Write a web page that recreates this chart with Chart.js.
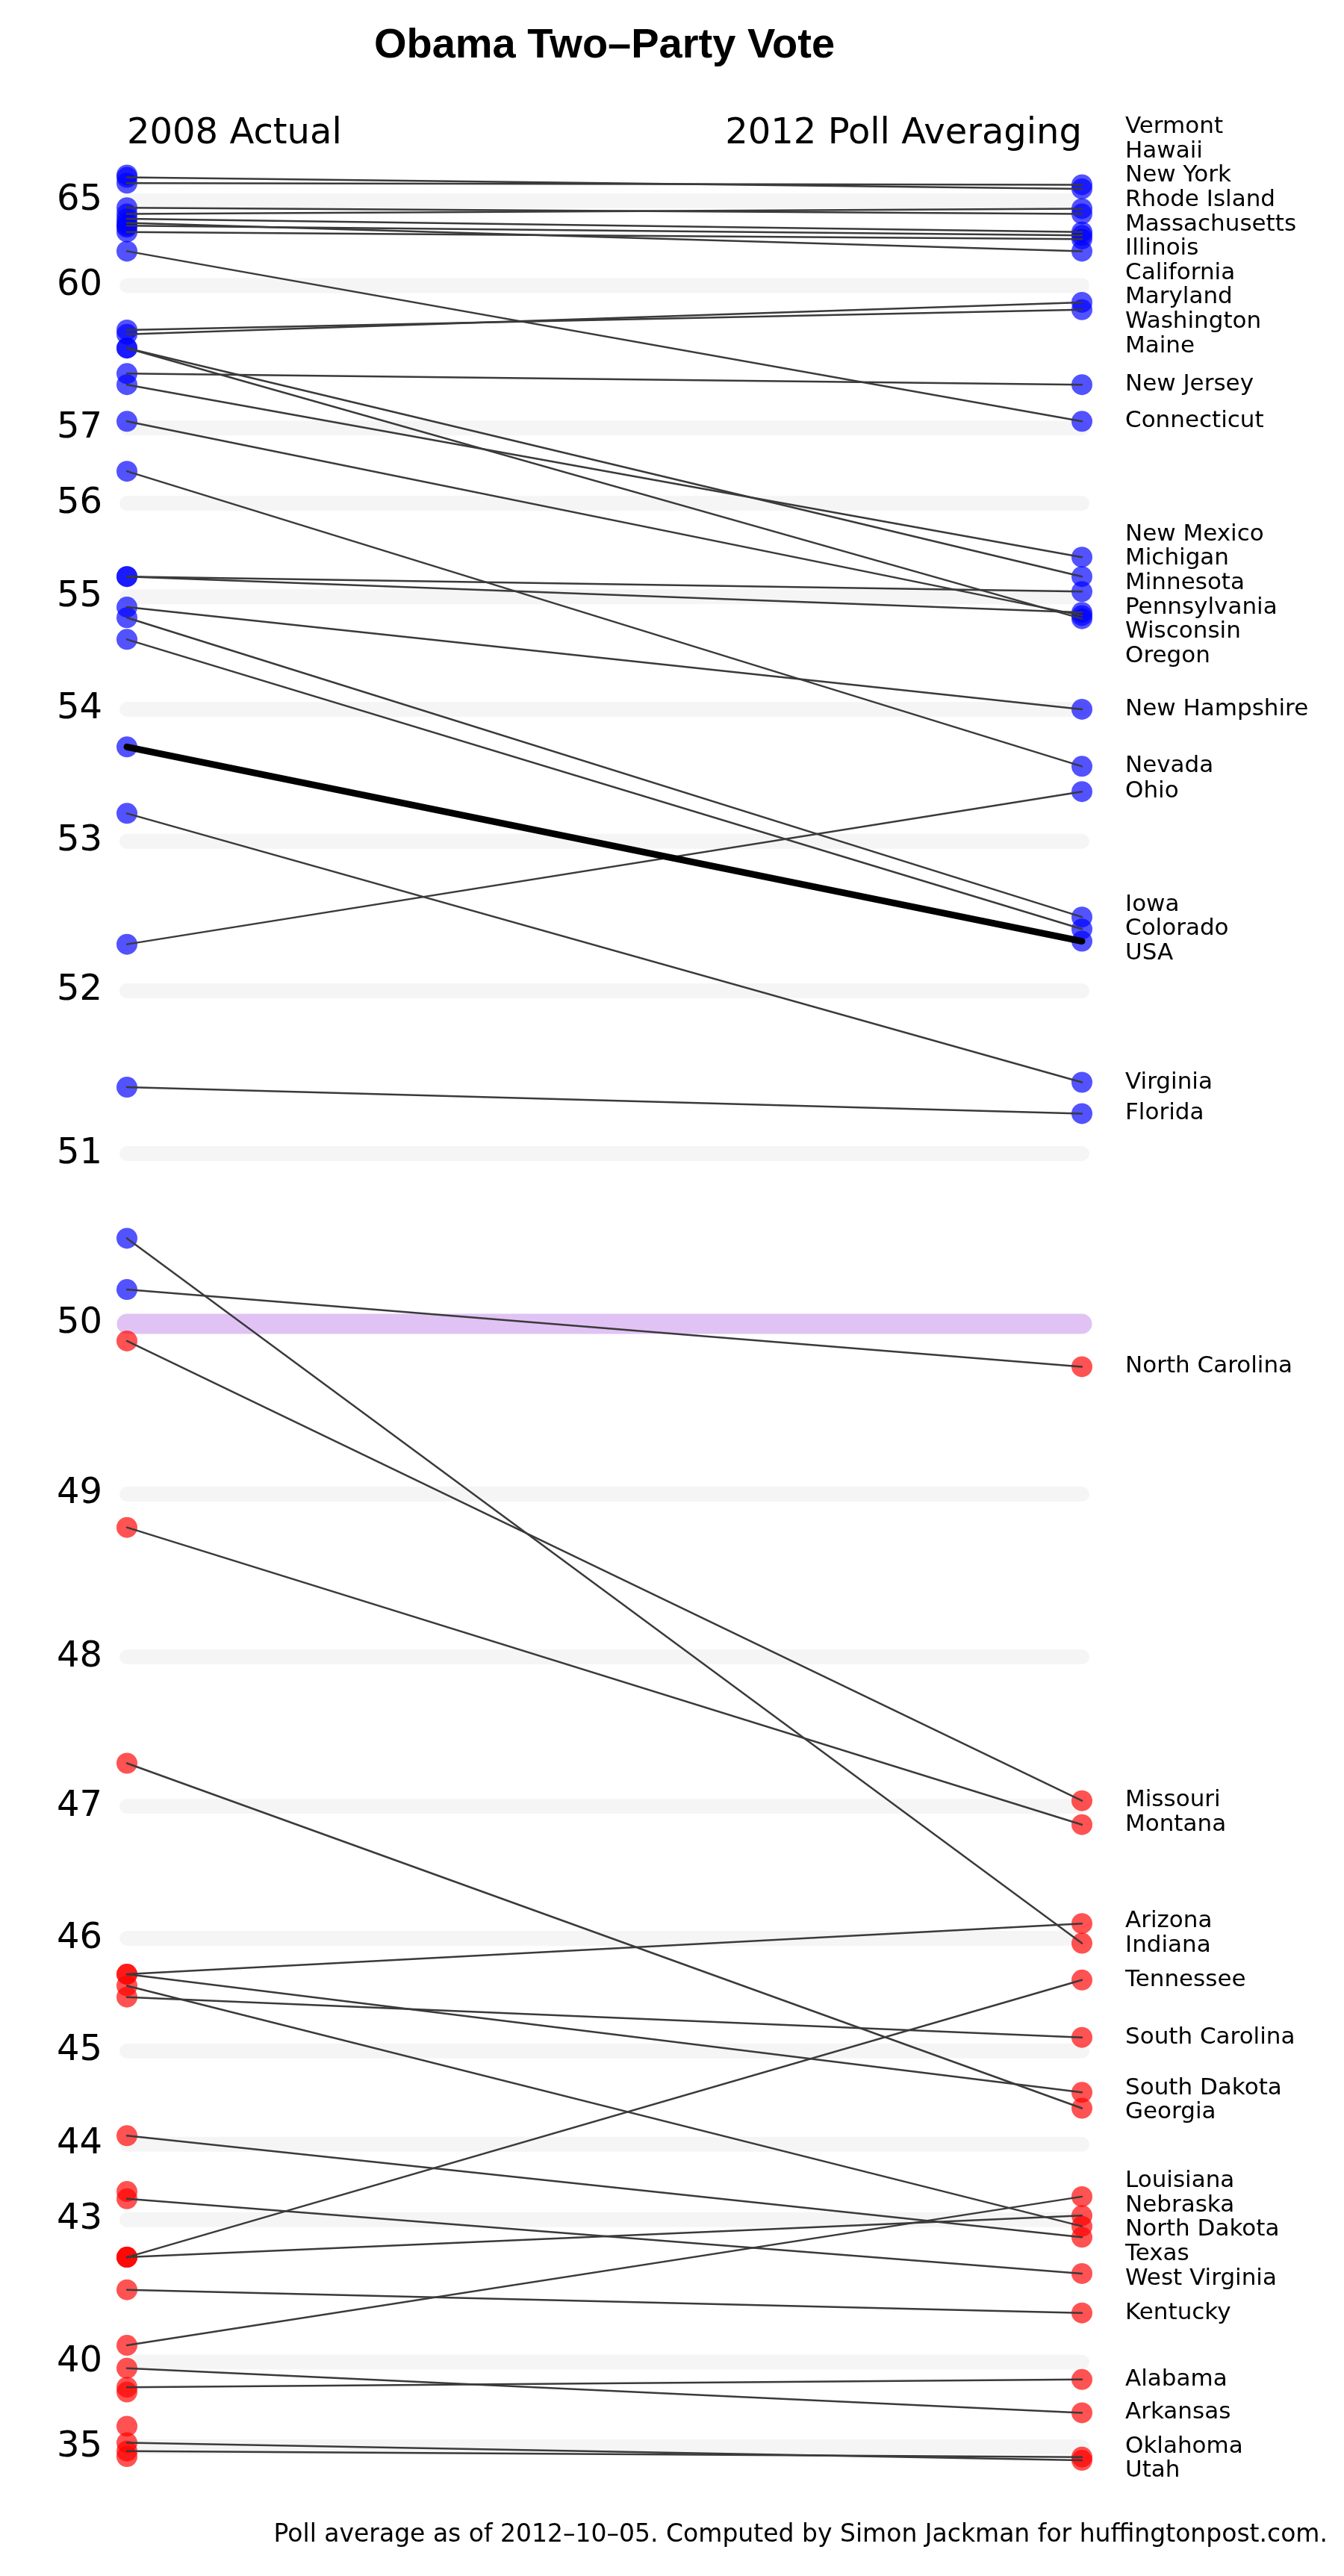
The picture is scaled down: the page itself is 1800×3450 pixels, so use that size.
<!DOCTYPE html>
<html>
<head>
<meta charset="utf-8">
<script src="https://cdn.jsdelivr.net/npm/chart.js@4.4.0/dist/chart.umd.min.js"></script>
<style>
  html, body { margin: 0; padding: 0; background: #fff; }
  canvas { display: block; }
</style>
</head>
<body>
<canvas id="grafico" width="1800" height="3450"></canvas>
<script>
// states in the order of the 2012 labels, then states with no 2012 polls
var estados = [
  "Vermont", "Hawaii", "New York", "Rhode Island", "Massachusetts", "Illinois", "California",
  "Maryland", "Washington", "Maine", "New Jersey", "Connecticut", "New Mexico", "Michigan",
  "Minnesota", "Pennsylvania", "Wisconsin", "Oregon", "New Hampshire", "Nevada", "Ohio",
  "Iowa", "Colorado", "USA", "Virginia", "Florida", "North Carolina", "Missouri", "Montana",
  "Arizona", "Indiana", "Tennessee", "South Carolina", "South Dakota", "Georgia", "Louisiana",
  "Nebraska", "North Dakota", "Texas", "West Virginia", "Kentucky", "Alabama", "Arkansas",
  "Oklahoma", "Utah",
  "District of Columbia", "Delaware", "Idaho", "Wyoming", "Alaska", "Kansas", "Mississippi"
];

var voto2008 = [
  68.9, 73.0, 63.6, 64.2, 63.2, 62.7, 62.3,
  62.9, 58.7, 58.8, 57.9, 61.3, 57.7, 58.4,
  55.2, 55.2, 57.1, 58.4, 54.9, 56.4, 52.3,
  54.8, 54.6, 53.7, 53.2, 51.4, 50.2, 49.9, 48.8,
  45.7, 50.5, 42.4, 45.5, 45.7, 47.3, 40.5,
  42.4, 45.6, 44.1, 43.3, 41.8, 39.1, 39.8,
  34.4, 35.5,
  93.4, 62.6, 37.0, 33.4, 38.9, 42.4, 43.4
];

var voto2012 = [
  68.3, 67.1, 64.1, 63.6, 62.3, 62.1, 61.9,
  61.3, 59.5, 59.3, 57.7, 57.1, 55.4, 55.2,
  55.05, 54.85, 54.82, 54.79, 54.0, 53.55, 53.36,
  52.48, 52.4, 52.32, 51.43, 51.24, 49.75, 47.04, 46.87,
  46.12, 45.96, 45.65, 45.13, 44.58, 44.41, 43.33,
  43.06, 42.9, 42.73, 42.11, 41.31, 39.4, 37.87,
  33.3, 32.5,
  null, null, null, null, null, null, null
];

var marcasY = [35, 40, 43, 44, 45, 46, 47, 48, 49, 50, 51, 52, 53, 54, 55, 56, 57, 60, 65];
var colunas = ["2008 Actual", "2012 Poll Averaging"];
var titulo = "Obama Two\u2013Party Vote";
var rodape = "Poll average as of 2012\u201310\u201305. Computed by Simon Jackman for huffingtonpost.com.";

// logistic squash around 50%, the axis spacing used by the original
function squash(v) {
  return 1 / (1 + Math.exp(-(v - 50) / 3.35));
}

class VoteScale extends Chart.LinearScale {
  getPixelForValue(value) {
    if (value === null || value === undefined) return NaN;
    var lo = squash(this.min), hi = squash(this.max);
    return this.getPixelForDecimal((squash(value) - lo) / (hi - lo));
  }
  getValueForPixel(pixel) {
    var lo = squash(this.min), hi = squash(this.max);
    var p = lo + this.getDecimalForPixel(pixel) * (hi - lo);
    return 50 + 3.35 * Math.log(p / (1 - p));
  }
}
VoteScale.id = "vote";
Chart.register(VoteScale);

var azul = "rgba(0, 0, 255, 0.68)";
var vermelho = "rgba(255, 0, 0, 0.68)";

var pontos = [];
estados.forEach((estado, i) => {
  pontos.push({ x: 0, y: voto2008[i] });
  if (voto2012[i] !== null) pontos.push({ x: 1, y: voto2012[i] });
});

var linhas = [];
estados.forEach((estado, i) => {
  if (voto2012[i] === null) return;
  var usa = estado === "USA";
  linhas.push({
    type: "line",
    label: estado,
    data: [{ x: 0, y: voto2008[i] }, { x: 1, y: voto2012[i] }],
    borderColor: usa ? "#000000" : "#3a3a3a",
    borderWidth: usa ? 9 : 2.5,
    borderCapStyle: "round",
    pointRadius: 0,
    clip: false,
    order: usa ? 0 : 1
  });
});

var faixas = {
  id: "faixas",
  beforeDatasetsDraw(chart) {
    var ctx = chart.ctx, x = chart.scales.x, y = chart.scales.y;
    var x0 = x.getPixelForValue(0), x1 = x.getPixelForValue(1);
    ctx.save();
    ctx.lineCap = "round";
    marcasY.forEach(v => {
      var py = y.getPixelForValue(v);
      ctx.strokeStyle = v === 50 ? "#e0c3f4" : "#f5f5f5";
      ctx.lineWidth = v === 50 ? 27 : 20;
      ctx.beginPath();
      ctx.moveTo(x0, py);
      ctx.lineTo(x1, py);
      ctx.stroke();
    });
    ctx.restore();
  }
};

// state names on the right, spread apart so they do not overlap
var rotulos = {
  id: "rotulos",
  afterDatasetsDraw(chart) {
    var ctx = chart.ctx, x = chart.scales.x, y = chart.scales.y;
    var gap = 32.6;
    var itens = [];
    estados.forEach((estado, i) => {
      if (voto2012[i] !== null) itens.push({ nome: estado, alvo: y.getPixelForValue(voto2012[i]) });
    });
    itens.sort((a, b) => a.alvo - b.alvo);

    var grupos = itens.map(d => ({ membros: [d], centro: d.alvo }));
    var mudou = true;
    while (mudou) {
      mudou = false;
      for (var k = 0; k < grupos.length - 1; k++) {
        var a = grupos[k], b = grupos[k + 1];
        var fimA = a.centro + (a.membros.length - 1) / 2 * gap;
        var iniB = b.centro - (b.membros.length - 1) / 2 * gap;
        if (iniB - fimA < gap) {
          var membros = a.membros.concat(b.membros);
          var centro = membros.reduce((s, d) => s + d.alvo, 0) / membros.length;
          grupos.splice(k, 2, { membros: membros, centro: centro });
          mudou = true;
          break;
        }
      }
    }

    var px = x.getPixelForValue(1) + 58;
    ctx.save();
    ctx.fillStyle = "#000";
    ctx.font = "31px 'DejaVu Sans'";
    ctx.textAlign = "left";
    ctx.textBaseline = "middle";
    grupos.forEach(g => {
      var topo = g.centro - (g.membros.length - 1) / 2 * gap;
      g.membros.forEach((d, j) => ctx.fillText(d.nome, px, topo + j * gap));
    });
    ctx.restore();
  }
};

new Chart(document.getElementById("grafico"), {
  type: "scatter",
  data: {
    datasets: linhas.concat([{
      type: "scatter",
      label: "pontos",
      data: pontos,
      pointRadius: 14,
      pointHoverRadius: 14,
      pointBorderWidth: 0,
      pointBackgroundColor: c => (c.raw && c.raw.y > 50 ? azul : vermelho),
      clip: false,
      order: 2
    }])
  },
  options: {
    responsive: false,
    devicePixelRatio: 1,
    animation: false,
    layout: { padding: { right: 22 } },
    scales: {
      x: {
        type: "linear",
        position: "top",
        min: 0,
        max: 1,
        grid: { display: false, drawTicks: false },
        border: { display: false },
        afterBuildTicks: s => { s.ticks = [{ value: 0 }, { value: 1 }]; },
        afterFit: s => { s.height = 139.2; },
        ticks: {
          align: "inner",
          autoSkip: false,
          maxRotation: 0,
          padding: 25.6,
          color: "#000",
          font: { family: "DejaVu Sans", size: 48 },
          callback: (v, i) => colunas[i]
        }
      },
      y: {
        type: "vote",
        position: "left",
        min: 5,
        max: 95,
        grid: { display: false, drawTicks: false },
        border: { display: false },
        afterBuildTicks: s => { s.ticks = marcasY.map(v => ({ value: v })); },
        afterFit: s => { s.width = 170; },
        ticks: {
          autoSkip: false,
          padding: 33,
          color: "#000",
          font: { family: "DejaVu Sans", size: 48 },
          callback: v => String(v)
        }
      },
      yr: {
        type: "linear",
        position: "right",
        grid: { display: false, drawTicks: false },
        border: { display: false },
        ticks: { display: false },
        afterFit: s => { s.width = 329; }
      }
    },
    plugins: {
      legend: { display: false },
      tooltip: { enabled: false },
      title: {
        display: true,
        text: titulo,
        fullSize: false,
        color: "#000",
        font: { family: "Liberation Sans", size: 56, weight: "bold" },
        padding: { top: 28, bottom: 0 }
      },
      subtitle: {
        display: true,
        text: rodape,
        position: "bottom",
        align: "end",
        color: "#000",
        font: { family: "DejaVu Sans", size: 33, weight: "normal" },
        padding: { top: 64.4, bottom: 34.4 }
      }
    }
  },
  plugins: [faixas, rotulos]
});
</script>
</body>
</html>
